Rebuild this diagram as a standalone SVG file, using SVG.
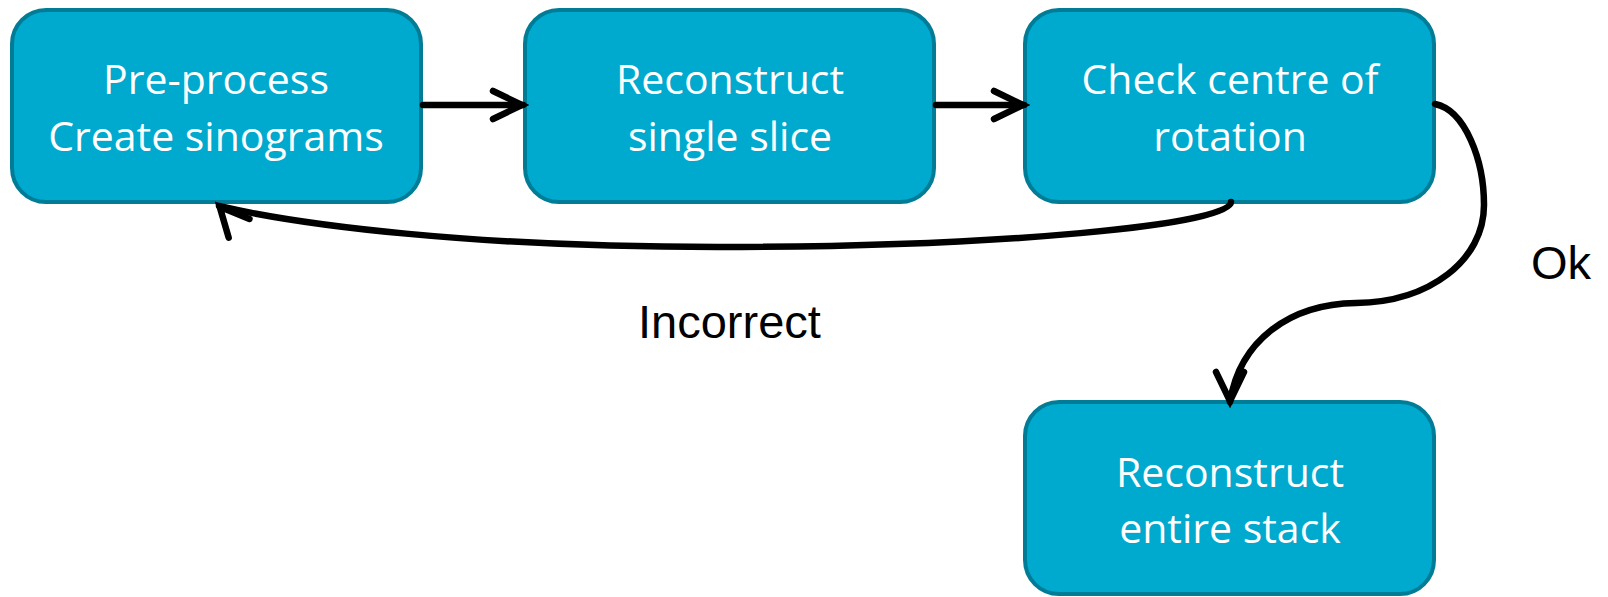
<svg xmlns="http://www.w3.org/2000/svg" width="1608" height="597" viewBox="0 0 1608 597">
<defs>
<style>
.box{fill:#00A9CE;stroke:#007C96;stroke-width:4}
.lbl{font-family:"Open Sans","Noto Sans",sans-serif;font-size:41px;fill:#ffffff;text-anchor:middle}
.edge{fill:none;stroke:#000;stroke-width:6.5;stroke-linecap:round}
.elbl{font-family:"Liberation Sans",Arial,sans-serif;font-size:47px;fill:#000}
.ah{fill:none;stroke:#000;stroke-width:6.5;stroke-linecap:round;stroke-linejoin:miter}
</style>
<marker id="chev" markerUnits="userSpaceOnUse" markerWidth="44" markerHeight="44" viewBox="-38 -22 44 44" refX="0" refY="0" orient="auto">
<path class="ah" d="M-30,-14 L-1,0 L-30,14"/>
</marker>
<marker id="chevUL" markerUnits="userSpaceOnUse" markerWidth="44" markerHeight="44" viewBox="-38 -22 44 44" refX="0" refY="0" orient="228">
<path class="ah" d="M-30,-14 L-1,0 L-30,14"/>
</marker>
<marker id="chevD" markerUnits="userSpaceOnUse" markerWidth="44" markerHeight="44" viewBox="-38 -22 44 44" refX="0" refY="0" orient="90">
<path class="ah" d="M-30,-14 L-1,0 L-30,14"/>
</marker>
</defs>
<rect width="1608" height="597" fill="#ffffff"/>
<g id="n1">
<rect class="box" x="12" y="10" width="409" height="192" rx="34"/>
<text class="lbl" x="216" y="94">Pre-process</text>
<text class="lbl" x="216" y="151">Create sinograms</text>
</g>
<g id="n2">
<rect class="box" x="525" y="10" width="409" height="192" rx="34"/>
<text class="lbl" x="730" y="94">Reconstruct</text>
<text class="lbl" x="730" y="151">single slice</text>
</g>
<g id="n3">
<rect class="box" x="1025" y="10" width="409" height="192" rx="34"/>
<text class="lbl" x="1230" y="94">Check centre of</text>
<text class="lbl" x="1230" y="151">rotation</text>
</g>
<g id="n4">
<rect class="box" x="1025" y="402" width="409" height="192" rx="34"/>
<text class="lbl" x="1230" y="487">Reconstruct</text>
<text class="lbl" x="1230" y="543">entire stack</text>
</g>
<g id="edges">
<path class="edge" d="M423,105 L523,105" marker-end="url(#chev)"/>
<path class="edge" d="M936,105 L1024,105" marker-end="url(#chev)"/>
<path class="edge" d="M1231,202 C1231,225 1000,247 718,247 C470,247 300,225 219,206" marker-end="url(#chevUL)"/>
<path class="edge" d="M1435,104 C1465,110 1484,160 1484,205 C1484,260 1430,302 1356,303 C1290,304 1240,340 1230,402" marker-end="url(#chevD)"/>
<text class="elbl" x="638" y="338">Incorrect</text>
<text class="elbl" x="1531" y="279">Ok</text>
</g>
</svg>
